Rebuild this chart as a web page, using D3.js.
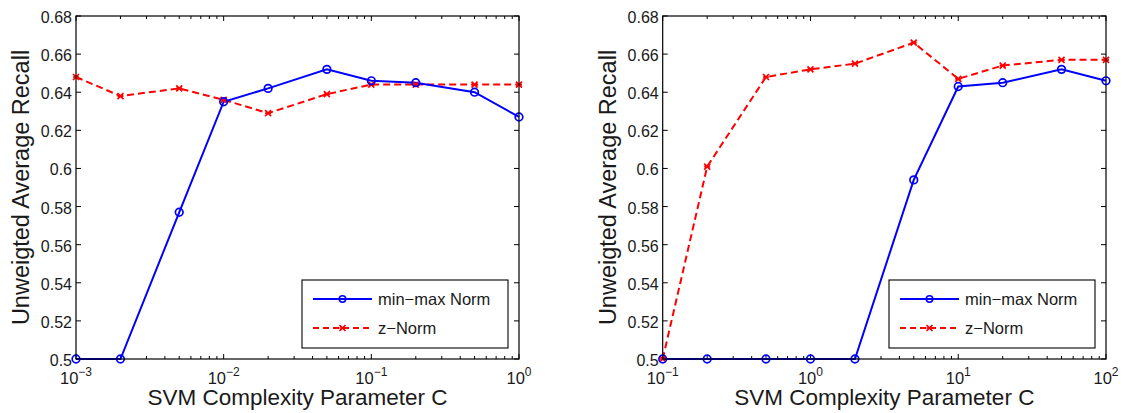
<!DOCTYPE html>
<html><head><meta charset="utf-8">
<script src="https://cdn.jsdelivr.net/npm/d3@7"></script>
<style>body{margin:0;background:#fff}svg{display:block;font-family:"Liberation Sans",Arial,Helvetica,sans-serif}</style>
</head><body><svg id="c" width="1124" height="413"></svg>
<script>
// ---- data ----
const leftC = [0.001, 0.002, 0.005, 0.01, 0.02, 0.05, 0.1, 0.2, 0.5, 1];
const leftMinMax = [0.5, 0.5, 0.577, 0.635, 0.642, 0.652, 0.646, 0.645, 0.640, 0.627];
const leftZNorm = [0.648, 0.638, 0.642, 0.636, 0.629, 0.639, 0.644, 0.644, 0.644, 0.644];
const rightC = [0.1, 0.2, 0.5, 1, 2, 5, 10, 20, 50, 100];
const rightMinMax = [0.5, 0.5, 0.5, 0.5, 0.5, 0.594, 0.643, 0.645, 0.652, 0.646];
const rightZNorm = [0.5, 0.601, 0.648, 0.652, 0.655, 0.666, 0.647, 0.654, 0.657, 0.657];
const leftXExps = [-3, -2, -1, 0];
const rightXExps = [-1, 0, 1, 2];
const yTicks = [0.5, 0.52, 0.54, 0.56, 0.58, 0.6, 0.62, 0.64, 0.66, 0.68];
const seriesNames = ["min\u2212max Norm", "z\u2212Norm"];
const yLabel = "Unweigted Average Recall";
const xLabel = "SVM Complexity Parameter C";

const svg = d3.select("#c");
const pTop = 16, pBottom = 359;
const y = d3.scaleLinear().domain([0.5, 0.68]).range([pBottom, pTop]);
const ink = "#1a1a1a";

function panel(x0, x1, cs, blue, red, exps) {
  const x = d3.scaleLog().domain([Math.pow(10, exps[0]), Math.pow(10, exps[exps.length - 1])]).range([x0, x1]);
  const g = svg.append("g");
  const minor = [];
  for (let e = exps[0]; e < exps[exps.length - 1]; e++) for (let k = 2; k <= 9; k++) minor.push(k * Math.pow(10, e));
  const tk = g.append("g").attr("stroke", "#000").attr("stroke-width", 1);
  minor.forEach(v => {
    const px = x(v);
    tk.append("line").attr("x1", px).attr("x2", px).attr("y1", pBottom).attr("y2", pBottom - 3);
    tk.append("line").attr("x1", px).attr("x2", px).attr("y1", pTop).attr("y2", pTop + 3);
  });
  exps.forEach(e => {
    const px = x(Math.pow(10, e));
    tk.append("line").attr("x1", px).attr("x2", px).attr("y1", pBottom).attr("y2", pBottom - 5);
    tk.append("line").attr("x1", px).attr("x2", px).attr("y1", pTop).attr("y2", pTop + 5);
    const t = g.append("text").attr("x", px).attr("y", 384).attr("text-anchor", "middle")
      .attr("font-size", 16.5).attr("fill", ink);
    t.append("tspan").text("10");
    t.append("tspan").attr("dy", -8).attr("font-size", 12).text(e < 0 ? "\u2212" + (-e) : String(e));
  });
  yTicks.forEach(v => {
    const py = y(v);
    tk.append("line").attr("x1", x0).attr("x2", x0 + 5).attr("y1", py).attr("y2", py);
    tk.append("line").attr("x1", x1).attr("x2", x1 - 5).attr("y1", py).attr("y2", py);
    g.append("text").attr("x", x0 - 4).attr("y", py + 7).attr("text-anchor", "end")
      .attr("font-size", 16).attr("fill", ink).text(String(+v.toFixed(2)));
  });
  const line = d3.line().x((d, i) => x(cs[i])).y(d => y(d));
  g.append("path").datum(red).attr("d", line).attr("fill", "none").attr("stroke", "#ff0000")
    .attr("stroke-width", 2).attr("stroke-dasharray", "7,4");
  g.append("path").datum(blue).attr("d", line).attr("fill", "none").attr("stroke", "#0000ff")
    .attr("stroke-width", 2);
  const xm = (sel, cx, cy) => {
    const s = 3;
    sel.append("path").attr("d", `M${cx - s},${cy - s}L${cx + s},${cy + s}M${cx - s},${cy + s}L${cx + s},${cy - s}M${cx-s},${cy}L${cx+s},${cy}`)
      .attr("stroke", "#ff0000").attr("stroke-width", 1.7).attr("fill", "none");
  };
  red.forEach((d, i) => xm(g, x(cs[i]), y(d)));
  g.selectAll("circle.b").data(blue).enter().append("circle").attr("class", "b")
    .attr("cx", (d, i) => x(cs[i])).attr("cy", d => y(d)).attr("r", 3.8)
    .attr("fill", "none").attr("stroke", "#0000ff").attr("stroke-width", 1.7);
  g.append("rect").attr("x", x0).attr("y", pTop).attr("width", x1 - x0).attr("height", pBottom - pTop)
    .attr("fill", "none").attr("stroke", "#000").attr("stroke-width", 1.2);
  g.append("text").attr("x", (x0 + x1) / 2).attr("y", 405).attr("text-anchor", "middle")
    .attr("font-size", 22.5).attr("fill", ink).text(xLabel);
  g.append("text").attr("transform", `translate(${x0 - 47},${(pTop + pBottom) / 2}) rotate(-90)`)
    .attr("text-anchor", "middle").attr("font-size", 23.5).attr("fill", ink).text(yLabel);
  const lx = x1 - 217, ly = 280;
  g.append("rect").attr("x", lx).attr("y", ly).attr("width", 206).attr("height", 68)
    .attr("fill", "#fff").attr("stroke", "#000").attr("stroke-width", 1.1);
  const r1 = ly + 19, r2 = ly + 48;
  g.append("line").attr("x1", lx + 11).attr("x2", lx + 70).attr("y1", r1).attr("y2", r1)
    .attr("stroke", "#0000ff").attr("stroke-width", 2);
  g.append("circle").attr("cx", lx + 40.5).attr("cy", r1).attr("r", 3.2).attr("fill", "none")
    .attr("stroke", "#0000ff").attr("stroke-width", 1.6);
  g.append("line").attr("x1", lx + 11).attr("x2", lx + 70).attr("y1", r2).attr("y2", r2)
    .attr("stroke", "#ff0000").attr("stroke-width", 2).attr("stroke-dasharray", "6,4");
  xm(g, lx + 40.5, r2);
  g.append("text").attr("x", lx + 76).attr("y", r1 + 6).attr("font-size", 16.5).attr("fill", ink).text(seriesNames[0]);
  g.append("text").attr("x", lx + 76).attr("y", r2 + 6).attr("font-size", 16.5).attr("fill", ink).text(seriesNames[1]);
}
panel(76, 519, leftC, leftMinMax, leftZNorm, leftXExps);
panel(662.7, 1106, rightC, rightMinMax, rightZNorm, rightXExps);
</script></body></html>
